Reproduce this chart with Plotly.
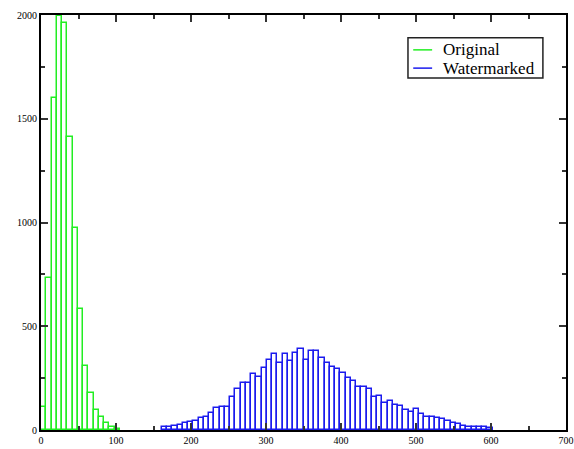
import plotly.graph_objects as go

bin_width = 7

original_starts = [0, 7, 14, 21, 28, 35, 42, 49, 56, 63, 70, 77, 84, 91, 98]
original_counts = [112, 734, 1601, 1995, 1960, 1413, 972, 582, 310, 177, 96, 64, 32, 16, 5]

watermarked_starts = [161 + 7 * i for i in range(63)]
watermarked_counts = [
    13, 16, 20, 24, 35, 40, 45, 59, 61, 80,
    105, 112, 112, 158, 196, 225, 225, 270, 257, 300,
    337, 365, 321, 365, 334, 373, 389, 337, 382, 382,
    345, 321, 305, 292, 276, 249, 238, 209, 209, 196,
    160, 164, 129, 141, 120, 116, 96, 88, 100, 77,
    64, 61, 60, 54, 45, 35, 30, 19, 16, 13,
    13, 13, 10,
]

series_names = ["Original", "Watermarked"]
x_ticks = [0, 100, 200, 300, 400, 500, 600, 700]
y_ticks = [0, 500, 1000, 1500, 2000]

green = "#22ee22"
blue = "#1a1aee"
colors = [green, blue]
serif = "Liberation Serif"

fig = go.Figure()
fig.add_trace(go.Bar(
    x=[s + bin_width / 2 for s in original_starts], y=original_counts, name=series_names[0],
    width=bin_width, marker=dict(color="rgba(0,0,0,0)", line=dict(color=green, width=1.5)),
    showlegend=False,
))
fig.add_trace(go.Bar(
    x=[s + bin_width / 2 for s in watermarked_starts], y=watermarked_counts, name=series_names[1],
    width=bin_width, marker=dict(color="rgba(0,0,0,0)", line=dict(color=blue, width=1.5)),
    showlegend=False,
))

# legend box drawn in paper coordinates
fig.add_shape(type="rect", xref="paper", yref="paper", x0=0.699, x1=0.956, y0=0.848, y1=0.945,
              line=dict(color="#222", width=1.5), fillcolor="white", layer="above")
legend_y = [0.916, 0.872]
for name, col, ly in zip(series_names, colors, legend_y):
    fig.add_shape(type="line", xref="paper", yref="paper", x0=0.709, x1=0.745, y0=ly, y1=ly,
                  line=dict(color=col, width=1.5), layer="above")
    fig.add_annotation(xref="paper", yref="paper", x=0.762, y=ly, text=name, showarrow=False,
                       xanchor="left", yanchor="middle",
                       font=dict(family=serif, size=17, color="black"))

axis_common = dict(
    showline=True, linecolor="black", linewidth=2, mirror="allticks",
    ticks="inside", ticklen=7, tickwidth=1.5, tickcolor="#333",
    showgrid=False, zeroline=False, automargin=False,
    tickfont=dict(family=serif, size=10, color="black"),
)

fig.update_layout(
    width=574, height=449,
    margin=dict(l=41, r=8, t=15, b=19),
    paper_bgcolor="white", plot_bgcolor="white",
    barmode="overlay", bargap=0, showlegend=False,
    xaxis=dict(range=[0, 700], tickvals=x_ticks, ticktext=[str(v) for v in x_ticks],
               minor=dict(dtick=50, tick0=0, ticks="inside", ticklen=4, tickcolor="#333"),
               **axis_common),
    yaxis=dict(range=[0, 2000], tickvals=y_ticks, ticktext=[str(v) for v in y_ticks],
               minor=dict(dtick=250, tick0=0, ticks="inside", ticklen=4, tickcolor="#333"),
               **axis_common),
)

fig.write_html("out.html")
